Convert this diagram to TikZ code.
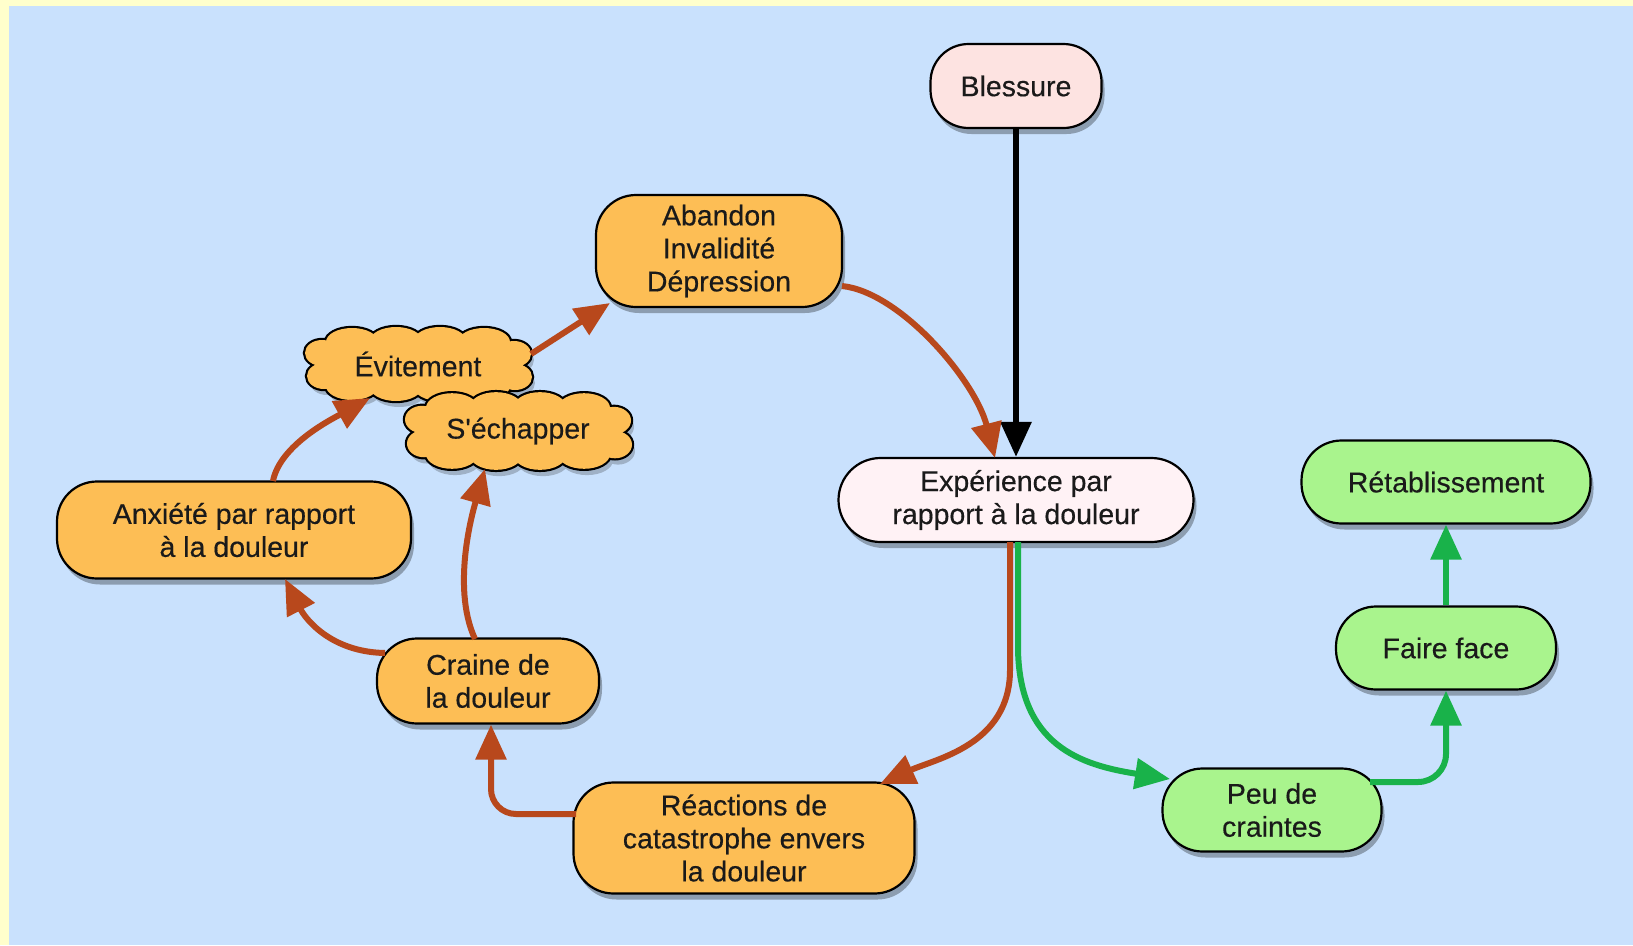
\documentclass[tikz,border=0pt]{standalone}
\usepackage{fontspec}
\setmainfont{Liberation Sans}
\usetikzlibrary{arrows.meta,shadows,calc}
\definecolor{bgyellow}{HTML}{FFFFCC}
\definecolor{bgblue}{HTML}{C9E1FD}
\definecolor{shadowcol}{HTML}{9FB1C6}
\definecolor{orangefill}{HTML}{FDBE55}
\definecolor{pinkfill}{HTML}{FDE3E1}
\definecolor{palefill}{HTML}{FFF2F5}
\definecolor{greenfill}{HTML}{A9F48D}
\definecolor{brownline}{HTML}{B8481C}
\definecolor{greenline}{HTML}{19B24A}
\definecolor{textcol}{HTML}{1A1A1A}
\begin{document}
\begin{tikzpicture}[x=1pt,y=-1pt,
  shadowed/.style={drop shadow={shadow xshift=3pt,shadow yshift=-6pt,opacity=0.3,fill=black}},
  textfont/.style={text=textcol,font=\fontsize{28.5}{33}\selectfont\addfontfeature{FakeBold=0.4}},
  nodebox/.style={shadowed,draw=black,line width=2.2pt,align=center,inner sep=0pt,textfont},
  pill/.style={nodebox,rectangle,rounded corners=#1},
  pill/.default=40pt,
  orangebox/.style={pill,fill=orangefill},
  greenbox/.style={pill,fill=greenfill},
  cloudtext/.style={textfont,inner sep=0pt,minimum width=226pt,minimum height=73pt},
  cloudlobes/.style={insert path={
    (0,0) ellipse [x radius=95,y radius=26]
    (-66,-22) ellipse [x radius=26,y radius=14]
    (-22,-23) ellipse [x radius=26,y radius=14]
    (22,-23) ellipse [x radius=26,y radius=14]
    (66,-22) ellipse [x radius=26,y radius=14]
    (-66,22) ellipse [x radius=26,y radius=14]
    (-22,23) ellipse [x radius=26,y radius=14]
    (22,23) ellipse [x radius=26,y radius=14]
    (66,22) ellipse [x radius=26,y radius=14]
    (-96,-11) ellipse [x radius=17,y radius=13]
    (-94,12) ellipse [x radius=17,y radius=13]
    (96,-10) ellipse [x radius=17,y radius=13]
    (97,13) ellipse [x radius=17,y radius=13]}},
  cloudpic/.pic={
    \fill[shadowcol,shift={(3,6)},cloudlobes];
    \draw[black,line width=4.4pt,cloudlobes];
    \fill[orangefill,cloudlobes];
  },
  conn/.style={line width=6pt,-{Triangle[width=30pt,length=35pt]}},
  brownarrow/.style={conn,draw=brownline},
  greenarrow/.style={conn,draw=greenline},
  blackarrow/.style={conn,draw=black}]
\useasboundingbox (0,0) rectangle (1633,945);
\fill[bgyellow] (0,0) rectangle (1633,945);
\fill[bgblue] (9,6) rectangle (1633,945);

\node[pill=38pt,fill=pinkfill,minimum width=171pt,minimum height=84pt] (bless) at (1016,86) {Blessure};
\node[orangebox,minimum width=246pt,minimum height=112pt] (aband) at (719,251) {Abandon\\Invalidité\\Dépression};
\pic at (418,364) {cloudpic};
\node[cloudtext] (evit) at (418,364) {Évitement};
\pic[yscale=1.05] at (518,431) {cloudpic};
\node[cloudtext] (sech) at (518,431) {S\textquotesingle échapper};
\node[orangebox,minimum width=354pt,minimum height=97pt] (anx) at (234,530) {Anxiété par rapport\\à la douleur};
\node[orangebox,minimum width=222pt,minimum height=85pt] (craine) at (488,681) {Craine de\\la douleur};
\node[orangebox,minimum width=341pt,minimum height=111pt] (reac) at (744,838) {Réactions de\\catastrophe envers\\la douleur};
\node[pill=42pt,fill=palefill,minimum width=355pt,minimum height=84pt] (exper) at (1016,500) {Expérience par\\rapport à la douleur};
\node[greenbox,minimum width=289pt,minimum height=83pt] (retab) at (1446,482) {Rétablissement};
\node[greenbox,minimum width=220pt,minimum height=83pt] (faire) at (1446,648) {Faire face};
\node[greenbox,minimum width=219pt,minimum height=83pt] (peu) at (1272,810) {Peu de\\craintes};

\draw[blackarrow] (bless.south) -- (exper.north);
\draw[brownarrow] ($(aband)+(123,35)$) .. controls ($(aband)+(181,41)$) and ($(exper)+(-41,-120)$) .. ($(exper)+(-21,-42)$);
\draw[brownarrow] ($(exper)+(-6,42)$) -- ($(exper)+(-6,170)$) .. controls ($(reac)+(266,-93)$) and ($(reac)+(191,-79)$) .. ($(reac)+(136,-54)$);
\draw[greenarrow] ($(exper)+(2,42)$) -- ($(exper)+(2,150)$) .. controls ($(peu)+(-252,-65)$) and ($(peu)+(-192,-45)$) .. ($(peu)+(-102,-31)$);
\draw[greenarrow,rounded corners=28pt] ($(peu)+(98,-28)$) -| (faire.south);
\draw[greenarrow] (faire.north) -- (retab.south);
\draw[brownarrow,rounded corners=25pt] ($(reac)+(-168,-24)$) -| ($(craine.south)+(3,0)$);
\draw[brownarrow] ($(craine)+(-103,-28)$) .. controls ($(craine)+(-158,-29)$) and ($(anx)+(71,88)$) .. ($(anx)+(51,49)$);
\draw[brownarrow] ($(craine)+(-13,-42)$) .. controls ($(craine)+(-38,-96)$) and ($(sech)+(-43,73)$) .. ($(sech)+(-33,38)$);
\draw[brownarrow] ($(anx)+(39,-49)$) .. controls ($(anx)+(46,-85)$) and ($(evit)+(-86,55)$) .. ($(evit)+(-48,34)$);
\draw[brownarrow] ($(evit)+(113,-10)$) -- ($(aband)+(-109,52)$);
\end{tikzpicture}
\end{document}
